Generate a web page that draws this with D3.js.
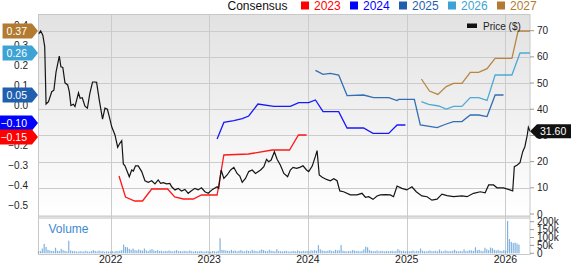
<!DOCTYPE html>
<html>
<head>
<meta charset="utf-8">
<script src="https://cdnjs.cloudflare.com/ajax/libs/d3/7.8.5/d3.min.js"></script>
<style>
  body { margin: 0; background: #fff; }
  svg { display: block; font-family: "Liberation Sans", Arial, sans-serif; }
</style>
</head>
<body>
<svg id="chart" width="571" height="264"></svg>
<script>
// ---- data ----
const priceDates = [
  "2021-04-09","2021-04-17","2021-04-25","2021-05-02","2021-05-07","2021-05-16","2021-05-28","2021-06-05",
  "2021-06-13","2021-06-25","2021-07-01","2021-07-08","2021-07-16","2021-07-26","2021-08-01","2021-08-07",
  "2021-08-16","2021-08-22","2021-09-04","2021-09-10","2021-09-18","2021-09-28","2021-10-07","2021-10-16",
  "2021-10-26","2021-11-04","2021-11-10","2021-11-20","2021-12-02","2021-12-11","2021-12-20","2021-12-27",
  "2022-01-05","2022-01-17","2022-01-27","2022-02-04","2022-02-11","2022-02-17","2022-02-23","2022-03-11",
  "2022-03-20","2022-03-26","2022-04-03","2022-04-13","2022-04-26","2022-05-08","2022-05-20","2022-06-02",
  "2022-06-14","2022-06-26","2022-07-05","2022-07-15","2022-07-27","2022-08-08","2022-08-15","2022-08-27",
  "2022-09-08","2022-09-20","2022-10-03","2022-10-15","2022-10-27","2022-11-09","2022-11-21","2022-12-03",
  "2022-12-16","2022-12-28","2023-01-13","2023-01-30","2023-02-05","2023-02-14","2023-02-24","2023-03-08",
  "2023-03-21","2023-04-02","2023-04-14","2023-04-24","2023-05-03","2023-05-15","2023-05-27","2023-06-09",
  "2023-06-21","2023-07-10","2023-07-22","2023-08-01","2023-08-09","2023-08-18","2023-08-30","2023-09-09",
  "2023-09-21","2023-10-04","2023-10-18","2023-10-28","2023-11-07","2023-11-20","2023-12-02","2023-12-14",
  "2023-12-27","2024-01-04","2024-01-17","2024-01-29","2024-02-04","2024-02-12","2024-02-23","2024-03-10",
  "2024-03-24","2024-04-06","2024-04-18","2024-04-28","2024-05-12","2024-06-06","2024-07-01","2024-07-19",
  "2024-08-01","2024-08-13","2024-08-29","2024-09-13","2024-09-25","2024-10-14","2024-11-01","2024-11-13",
  "2024-11-26","2024-12-14","2025-01-01","2025-01-20","2025-02-05","2025-02-26","2025-03-17","2025-04-04",
  "2025-04-23","2025-05-11","2025-05-30","2025-06-23","2025-07-24","2025-08-12","2025-09-05","2025-09-30",
  "2025-10-18","2025-10-31","2025-11-18","2025-12-01","2025-12-25","2026-01-18","2026-01-28","2026-02-03",
  "2026-02-14","2026-02-24","2026-03-06","2026-03-14","2026-03-23","2026-03-27","2026-04-02"
];
const priceValues = [
  68.7,69.9,68.3,63.9,42,42.9,46.7,47.3,
  54.3,60.3,56.2,56,50.1,49.3,46.7,41.4,
  41.9,41,46.3,44.2,44.4,41.2,40.4,46.1,
  50.4,50.4,50.3,43.5,36.2,40.4,40,37.2,
  33.3,30.2,25.5,27,28,19.1,18.4,14.2,
  16.8,16.4,18.4,18.4,16.2,12.7,12.1,12.7,
  11.5,13,11.7,12,11.5,11.7,10.4,9.2,
  9.8,8.8,9.4,7.9,8.9,9.8,9.2,10,
  8.5,7.9,9.4,10.4,9.8,16.8,13.6,14.9,
  16.8,17.8,15.5,14.5,12.1,13.6,16.2,16.8,
  15.5,16.8,18.1,20.9,20,20.6,23.8,20.9,
  18.7,15.5,14.2,16.8,17.8,17.4,17.8,18.4,
  16.8,16.2,18.3,22.1,24.2,14.9,14,13.2,
  12.7,13.5,12.7,8.8,8.5,7.3,7.3,7.9,
  6.4,6.6,5.6,6.9,7.3,7.4,7.3,6.6,
  10.7,9.8,9.2,10.4,8.5,6.9,6.6,5.3,
  5.7,7.6,7,6.6,6.9,6.6,7.9,8.5,
  8.1,11.1,11.1,10,10,9.2,8.8,18.1,
  18.7,19.6,23.8,25.7,30.2,33.1,31.6
];

const estimateYears = ["2023", "2024", "2025", "2026", "2027"];
const estimateColors = ["#ff0000", "#0000ff", "#1f5fae", "#3da2d4", "#b27b31"];

const eps2023Dates = ["2022-02-01","2022-02-25","2022-03-31","2022-04-29","2022-06-02","2022-07-31","2022-08-26","2022-09-27",
  "2022-11-03","2022-12-03","2023-01-30","2023-02-24","2023-05-26","2023-08-22","2023-10-25","2023-11-27","2023-12-27"];
const eps2023Values = [-0.355,-0.46,-0.48,-0.48,-0.42,-0.42,-0.46,-0.47,-0.47,-0.45,-0.45,-0.25,-0.245,-0.225,-0.225,-0.15,-0.15];

const eps2024Dates = ["2023-01-30","2023-02-24","2023-04-02","2023-05-03","2023-05-27","2023-06-30","2023-08-28","2023-10-28",
  "2023-11-28","2024-01-04","2024-01-29","2024-02-26","2024-04-24","2024-05-25","2024-07-25","2024-08-29","2024-10-26",
  "2024-11-26","2024-12-27"];
const eps2024Values = [-0.17,-0.087,-0.078,-0.068,-0.055,0.005,-0.007,-0.007,0.012,0.012,0.025,-0.033,-0.033,-0.115,-0.115,
  -0.142,-0.142,-0.10,-0.10];

const eps2025Dates = ["2024-01-29","2024-02-26","2024-03-24","2024-04-24","2024-05-25","2024-07-25","2024-08-31","2024-10-26",
  "2024-11-26","2024-12-02","2025-01-29","2025-02-20","2025-04-23","2025-05-27","2025-06-23","2025-07-24","2025-08-24",
  "2025-09-24","2025-10-25","2025-11-24","2025-12-25"];
const eps2025Values = [0.173,0.153,0.158,0.15,0.047,0.05,0.037,0.037,0.022,0.028,0.028,-0.10,-0.113,-0.095,-0.083,-0.083,
  -0.05,-0.05,-0.058,0.05,0.05];

const eps2026Dates = ["2025-02-24","2025-03-23","2025-04-29","2025-05-27","2025-06-23","2025-07-24","2025-08-24","2025-09-24",
  "2025-10-25","2025-11-24","2026-01-25","2026-02-24","2026-04-02"];
const eps2026Values = [0.017,0.003,-0.005,-0.02,-0.007,-0.007,0.037,0.037,0.023,0.15,0.15,0.26,0.26];

const eps2027Dates = ["2025-02-24","2025-03-26","2025-04-26","2025-05-27","2025-06-23","2025-07-24","2025-08-24","2025-09-24",
  "2025-10-25","2025-11-24","2026-01-25","2026-02-17","2026-04-02"];
const eps2027Values = [0.13,0.07,0.053,0.092,0.108,0.108,0.163,0.163,0.182,0.233,0.233,0.37,0.37];

// weekly volume in thousands, starting with the week of 2021-04-09
const volumeStart = "2021-04-09";
const volumeK = [
  12,14,30,60,40,22,18,15,14,35,16,14,28,20,16,12,80,18,14,13,12,10,14,11,12,16,12,10,14,20,15,12,18,12,14,10,12,11,
  12,14,10,15,13,16,20,55,40,38,28,22,30,20,18,24,20,16,30,18,14,22,26,18,15,20,14,16,12,15,13,18,14,12,15,20,13,15,
  12,16,14,12,18,13,11,14,12,13,15,11,12,14,
  12,10,14,13,11,15,95,22,20,18,16,14,22,15,18,12,16,20,14,12,18,15,13,22,16,14,12,18,24,20,15,13,22,16,14,12,26,15,
  13,12,14,16,12,11,13,15,12,18,14,12,16,13,
  14,12,18,16,20,16,52,25,18,15,14,16,20,15,13,22,18,20,52,16,14,12,15,13,20,18,14,16,12,15,24,42,38,20,15,13,14,18,
  12,16,14,12,15,13,14,16,12,14,
  26,18,14,16,12,15,13,14,18,12,16,14,30,16,14,12,15,18,13,14,16,12,24,14,12,18,15,13,14,16,22,14,12,15,13,25,14,16,
  20,18,15,38,20,22,16,14,35,25,20,36,32,22,
  18,22,16,14,20,16,205,90,72,65,68,62,55
];

const priceTicks = [0, 10, 20, 30, 40, 50, 60, 70];
const epsTicks = [-0.5, -0.4, -0.3, -0.2, -0.1, 0.0, 0.1, 0.2, 0.3, 0.4];
const volumeTicks = [0, 50000, 100000, 150000, 200000];

// ---- layout ----
const parse = d3.timeParse("%Y-%m-%d");
const plotLeft = 38.5, plotRight = 530, plotTop = 14, mainBottom = 216, volTop = 219, volBottom = 254;

const svg = d3.select("#chart");

const x = d3.scaleTime()
  .domain([parse("2021-04-09"), parse("2026-04-02")])
  .range([plotLeft, plotRight]);
const yPrice = d3.scaleLinear().domain([0, 70]).range([214, 30.7]);
const yEps = d3.scaleLinear().domain([-0.5, 0.4]).range([205, 25]);
const yVol = d3.scaleLinear().domain([0, 200000]).range([253.3, 221.7]);

const defs = svg.append("defs");
const grad = defs.append("linearGradient").attr("id", "bg").attr("x1", 0).attr("y1", 0).attr("x2", 0).attr("y2", 1);
grad.append("stop").attr("offset", "0%").attr("stop-color", "#e2e2e2");
grad.append("stop").attr("offset", "100%").attr("stop-color", "#ffffff");
defs.append("clipPath").attr("id", "clip")
  .append("rect").attr("x", plotLeft).attr("y", plotTop).attr("width", plotRight - plotLeft).attr("height", mainBottom - plotTop);

// panels
svg.append("rect")
  .attr("x", plotLeft).attr("y", plotTop)
  .attr("width", plotRight - plotLeft).attr("height", mainBottom - plotTop)
  .attr("fill", "url(#bg)");
svg.append("rect")
  .attr("x", plotLeft).attr("y", mainBottom)
  .attr("width", plotRight - plotLeft).attr("height", volTop - mainBottom)
  .attr("fill", "#dedede");

// grid
svg.append("g")
  .selectAll("line")
  .data(priceTicks.filter(d => d > 0))
  .join("line")
  .attr("x1", plotLeft).attr("x2", plotRight)
  .attr("y1", d => Math.round(yPrice(d)) + 0.5).attr("y2", d => Math.round(yPrice(d)) + 0.5)
  .attr("stroke", "#cbcbcb");

const years = x.ticks(d3.timeYear.every(1));
svg.append("g")
  .selectAll("line")
  .data(years)
  .join("line")
  .attr("x1", d => Math.round(x(d)) + 0.5).attr("x2", d => Math.round(x(d)) + 0.5)
  .attr("y1", plotTop).attr("y2", volBottom)
  .attr("stroke", "#cbcbcb");

// borders
svg.append("rect")
  .attr("x", plotLeft).attr("y", plotTop + 0.5)
  .attr("width", plotRight - plotLeft).attr("height", volBottom - plotTop)
  .attr("fill", "none").attr("stroke", "#c8c8c8");
svg.append("line")
  .attr("x1", plotLeft).attr("x2", plotRight).attr("y1", mainBottom).attr("y2", mainBottom)
  .attr("stroke", "#c8c8c8");

// volume bars
const vStart = parse(volumeStart);
svg.append("g")
  .attr("fill", "#6aa5da")
  .selectAll("rect")
  .data(volumeK)
  .join("rect")
  .attr("x", (d, i) => x(d3.timeWeek.offset(vStart, i)) - 0.6)
  .attr("y", d => yVol(d * 1000))
  .attr("width", 1.2)
  .attr("height", d => yVol(0) - yVol(d * 1000))
  .attr("opacity", 0.85);

svg.append("text")
  .attr("x", 48.5).attr("y", 233)
  .attr("font-size", 12).attr("fill", "#3b8ad0")
  .text("Volume");

// consensus lines
const epsSeries = [
  [eps2023Dates, eps2023Values],
  [eps2024Dates, eps2024Values],
  [eps2025Dates, eps2025Values],
  [eps2026Dates, eps2026Values],
  [eps2027Dates, eps2027Values]
];
const epsLine = d3.line().x(d => x(d[0])).y(d => yEps(d[1]));
const lines = svg.append("g").attr("clip-path", "url(#clip)");
epsSeries.forEach((s, i) => {
  const pts = s[0].map((d, j) => [parse(d), s[1][j]]);
  lines.append("path")
    .datum(pts)
    .attr("d", epsLine)
    .attr("fill", "none")
    .attr("stroke", estimateColors[i])
    .attr("stroke-width", 1.3)
    .attr("stroke-opacity", 0.9);
});

// price line
const priceLine = d3.line().x(d => x(d[0])).y(d => yPrice(d[1]));
lines.append("path")
  .datum(priceDates.map((d, i) => [parse(d), priceValues[i]]))
  .attr("d", priceLine)
  .attr("fill", "none")
  .attr("stroke", "#151515")
  .attr("stroke-width", 1.2);

// right axis (price)
const rAxis = svg.append("g").attr("font-size", 10).attr("fill", "#222");
rAxis.selectAll("line.pt")
  .data(priceTicks)
  .join("line")
  .attr("x1", plotRight).attr("x2", plotRight + 4)
  .attr("y1", d => yPrice(d)).attr("y2", d => yPrice(d))
  .attr("stroke", "#999");
rAxis.selectAll("text.pt")
  .data(priceTicks)
  .join("text")
  .attr("x", plotRight + 7).attr("y", d => yPrice(d)).attr("dy", "0.35em")
  .text(d => d);

// right axis (volume)
const vAxis = svg.append("g").attr("font-size", 10).attr("fill", "#222");
vAxis.selectAll("line")
  .data(volumeTicks)
  .join("line")
  .attr("x1", plotRight).attr("x2", plotRight + 4)
  .attr("y1", d => yVol(d)).attr("y2", d => yVol(d))
  .attr("stroke", "#999");
vAxis.selectAll("text")
  .data(volumeTicks)
  .join("text")
  .attr("x", plotRight + 7).attr("y", d => yVol(d)).attr("dy", "0.35em")
  .text(d => d === 0 ? "0" : d / 1000 + "k");

// left axis (EPS)
svg.append("g").attr("font-size", 10).attr("fill", "#222").attr("text-anchor", "end")
  .selectAll("text")
  .data(epsTicks)
  .join("text")
  .attr("x", 28).attr("y", d => yEps(d)).attr("dy", "0.35em")
  .text(d => d3.format(".1f")(d));

// x axis years
svg.append("g").attr("font-size", 10.5).attr("fill", "#222").attr("text-anchor", "middle")
  .selectAll("text")
  .data(years)
  .join("text")
  .attr("x", d => x(d)).attr("y", 263)
  .text(d => d3.timeFormat("%Y")(d));

// consensus flags on the left
const flags = epsSeries.map((s, i) => ({
  value: s[1][s[1].length - 1],
  color: estimateColors[i],
  y: yEps(s[1][s[1].length - 1])
})).sort((a, b) => a.y - b.y);
for (let k = 1; k < flags.length; k++) {
  if (flags[k].y - flags[k - 1].y < 14) {
    const mid = (flags[k].y + flags[k - 1].y) / 2;
    flags[k - 1].y = mid - 7;
    flags[k].y = mid + 7;
  }
}
const flagG = svg.append("g").attr("font-size", 10.5);
flags.forEach(f => {
  const g = flagG.append("g");
  const t = g.append("text")
    .attr("x", 27).attr("y", f.y).attr("dy", "0.36em")
    .attr("text-anchor", "end").attr("fill", "#fff")
    .text(d3.format(".2f")(f.value));
  const w = t.node().getComputedTextLength();
  const x0 = 27 - w - 4, x1 = 32, tip = 38, h = 7.5;
  g.insert("path", "text")
    .attr("d", `M${x0},${f.y - h}H${x1}L${tip},${f.y}L${x1},${f.y + h}H${x0}Z`)
    .attr("fill", f.color);
});

// last price flag on the right
const lastPrice = priceValues[priceValues.length - 1];
const py = yPrice(lastPrice);
svg.append("path")
  .attr("d", `M${plotRight},${py}L${plotRight + 7},${py - 7}H571V${py + 7}H${plotRight + 7}Z`)
  .attr("fill", "#111");
svg.append("text")
  .attr("x", 540).attr("y", py).attr("dy", "0.36em")
  .attr("font-size", 10.5).attr("fill", "#fff")
  .text(d3.format(".2f")(lastPrice));

// price legend inside plot
svg.append("rect").attr("x", 467).attr("y", 23.5).attr("width", 10).attr("height", 4.5).attr("fill", "#111");
svg.append("text").attr("x", 483).attr("y", 29.5).attr("font-size", 10).attr("fill", "#222").text("Price ($)");

// top legend
const legend = svg.append("g").attr("font-size", 12);
legend.append("text").attr("x", 227.5).attr("y", 10).attr("fill", "#111").text("Consensus");
estimateYears.forEach((yr, i) => {
  const lx = 301 + i * 49;
  legend.append("rect").attr("x", lx).attr("y", 1.5).attr("width", 8).attr("height", 8).attr("fill", estimateColors[i]);
  legend.append("text").attr("x", lx + 13).attr("y", 10).attr("fill", estimateColors[i]).text(yr);
});
</script>
</body>
</html>
